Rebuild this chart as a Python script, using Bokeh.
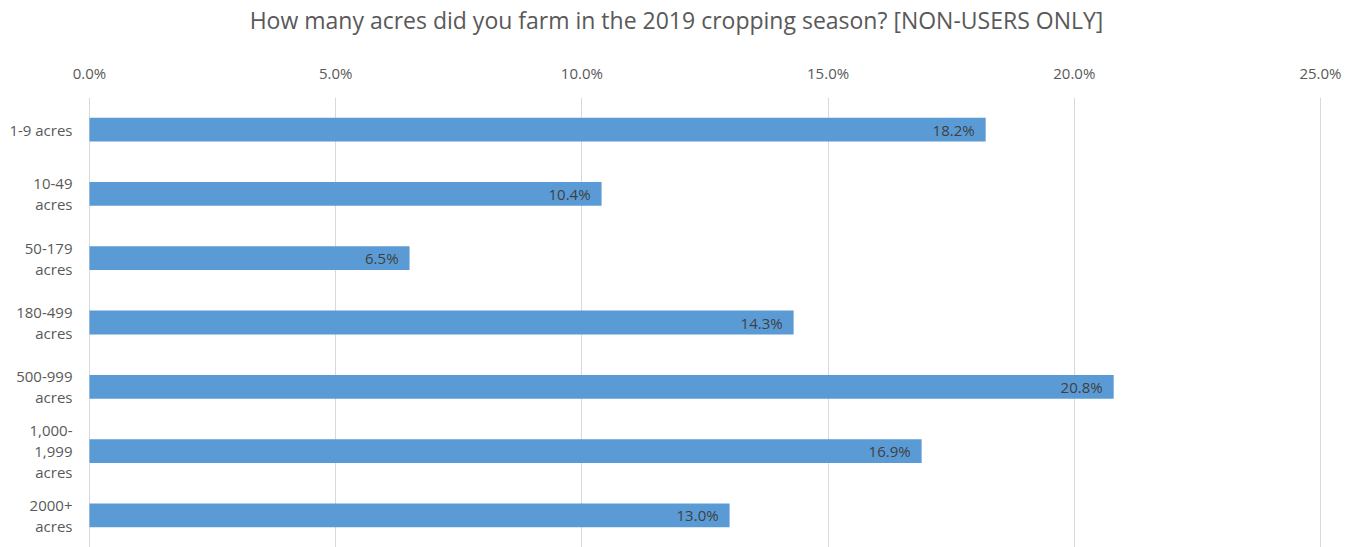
from bokeh.plotting import figure
from bokeh.models import (Range1d, FactorRange, PrintfTickFormatter, ColumnDataSource,
                          FixedTicker)
from bokeh.core.properties import value
from bokeh.embed import file_html
from bokeh.resources import INLINE

categories = ["1-9 acres", "10-49 acres", "50-179 acres", "180-499 acres",
              "500-999 acres", "1,000-1,999 acres", "2000+ acres"]
tick_labels = ["1-9 acres", "10-49\nacres", "50-179\nacres", "180-499\nacres",
               "500-999\nacres", "1,000-\n1,999\nacres", "2000+\nacres"]
percent = [18.2, 10.4, 6.5, 14.3, 20.8, 16.9, 13.0]
x_ticks = [0, 5, 10, 15, 20, 25]
title_text = "How many acres did you farm in the 2019 cropping season? [NON-USERS ONLY]"

FONT = "Open Sans"
GREY = "#595959"

source = ColumnDataSource(dict(cat=categories, pct=percent, zero=[0] * len(percent),
                               lbl=[f"{v:.1f}%" for v in percent], tick=tick_labels))

p = figure(width=1352, height=547, output_backend="svg", toolbar_location=None,
           title=None,
           x_range=Range1d(-1.807, 25.65), y_range=FactorRange(*reversed(categories)),
           x_axis_location="above", min_border_left=0, min_border_right=0,
           min_border_bottom=0, min_border_top=96)
p.outline_line_color = None
p.background_fill_color = "white"

p.hbar(y="cat", right="pct", left=0, height=0.37, source=source,
       fill_color="#5B9BD5", line_color=None)
p.text(x="pct", y="cat", text="lbl", source=source, text_align="right",
       text_baseline="middle", x_offset=-11, text_font=value(FONT),
       text_font_size="15px", text_color="#404040")
p.text(x="zero", y="cat", text="tick", source=source, text_align="right",
       text_baseline="middle", x_offset=-17, text_font=value(FONT),
       text_font_size="15px", text_color=GREY, text_line_height=1.05)

xa = p.xaxis[0]
xa.ticker = FixedTicker(ticks=x_ticks)
xa.formatter = PrintfTickFormatter(format="%.1f%%")
xa.axis_line_color = None
xa.major_tick_line_color = None
xa.major_tick_out = 0
xa.major_tick_in = 0
xa.minor_tick_line_color = None
xa.major_label_text_font = FONT
xa.major_label_text_font_size = "15px"
xa.major_label_text_color = GREY
xa.major_label_standoff = 15
# chart title, set above the tick labels
xa.axis_label = title_text
xa.axis_label_text_font = FONT
xa.axis_label_text_font_size = "23px"
xa.axis_label_text_font_style = "normal"
xa.axis_label_text_color = GREY
xa.axis_label_standoff = 24

p.yaxis.visible = False

p.xgrid.grid_line_color = "#D9D9D9"
p.xgrid.grid_line_width = 1
p.xgrid.ticker = FixedTicker(ticks=x_ticks)
p.ygrid.grid_line_color = None

open("out.html", "w").write(file_html(p, INLINE))
